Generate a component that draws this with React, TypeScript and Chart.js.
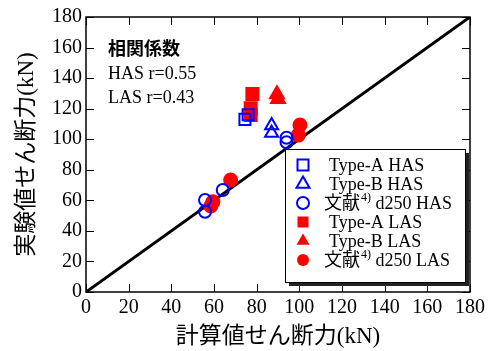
import React, { useEffect, useRef } from 'react';
import { Chart, registerables } from 'chart.js';
Chart.register(...registerables);

const tickValues = [0, 20, 40, 60, 80, 100, 120, 140, 160, 180];
const typeAHAS: [number, number][] = [[74.5, 113], [76, 116]];
const typeBHAS: [number, number][] = [[87, 109], [87, 104]];
const refHAS: [number, number][] = [[94, 101], [94, 98], [55.8, 60.2], [55.8, 52.5], [64.1, 66.8]];
const typeALAS: [number, number][] = [[78, 129.6], [77.2, 120.2], [77.2, 115.8]];
const typeBLAS: [number, number][] = [[89.5, 129.5], [90, 126.3]];
const refLAS: [number, number][] = [[100.3, 109.3], [99.5, 102.7], [67.8, 73.3], [59.5, 59], [58.5, 56.3]];
const diagonal: [number, number][] = [[0, 0], [180, 180]];
const xTitle = '計算値せん断力(kN)';
const yTitle = '実験値せん断力(kN)';
const noteLines = ['相関係数', 'HAS r=0.55', 'LAS r=0.43'];
const legendLabels = ['Type-A HAS', 'Type-B HAS', '文献|4)| d250 HAS', 'Type-A LAS', 'Type-B LAS', '文献|4)| d250 LAS'];
const legendStyles = ['rect', 'triangle', 'circle', 'rect', 'triangle', 'circle'];
const legendColors = ['#0000ff', '#0000ff', '#0000ff', '#ff0000', '#ff0000', '#ff0000'];
const legendFilled = [false, false, false, true, true, true];

const FONT = '"Liberation Serif", "Noto Sans CJK JP", serif';
const toPts = (a: [number, number][]) => a.map(([x, y]) => ({ x, y }));

function drawMarker(ctx: CanvasRenderingContext2D, style: string, x: number, y: number, color: string, filled: boolean) {
  ctx.beginPath();
  if (style === 'rect') {
    const s = 5.5;
    ctx.rect(x - s, y - s, 2 * s, 2 * s);
  } else if (style === 'triangle') {
    const r = 7.5;
    ctx.moveTo(x, y - r);
    ctx.lineTo(x + r * 0.866, y + r * 0.5);
    ctx.lineTo(x - r * 0.866, y + r * 0.5);
    ctx.closePath();
  } else {
    ctx.arc(x, y, 6, 0, Math.PI * 2);
  }
  if (filled) {
    ctx.fillStyle = color;
    ctx.fill();
  } else {
    ctx.strokeStyle = color;
    ctx.lineWidth = 2;
    ctx.stroke();
  }
}

const overlay = {
  id: 'overlay',
  afterDatasetsDraw(chart: any) {
    const { ctx, chartArea: a, scales } = chart;
    const xs = scales.x, ys = scales.y;
    ctx.save();
    ctx.strokeStyle = '#000';
    ctx.lineWidth = 1.5;
    ctx.strokeRect(a.left, a.top, a.right - a.left, a.bottom - a.top);
    ctx.lineWidth = 1;
    const L = 8;
    ctx.beginPath();
    for (const v of tickValues) {
      const px = Math.round(xs.getPixelForValue(v)) + 0.5;
      ctx.moveTo(px, a.bottom); ctx.lineTo(px, a.bottom - L);
      ctx.moveTo(px, a.top); ctx.lineTo(px, a.top + L);
      const py = Math.round(ys.getPixelForValue(v)) + 0.5;
      ctx.moveTo(a.left, py); ctx.lineTo(a.left + L, py);
      ctx.moveTo(a.right, py); ctx.lineTo(a.right - L, py);
    }
    ctx.stroke();

    // annotation
    ctx.fillStyle = '#000';
    ctx.textBaseline = 'middle';
    ctx.textAlign = 'left';
    ctx.font = 'bold 18px ' + FONT;
    ctx.fillText(noteLines[0], 108, 50);
    ctx.font = '18px ' + FONT;
    ctx.fillText(noteLines[1], 108, 74);
    ctx.fillText(noteLines[2], 108, 98);

    // legend
    const bx = 285, by = 149, bw = 180, bh = 133;
    ctx.fillStyle = '#222';
    ctx.fillRect(bx + 4, by + 4, bw, bh);
    ctx.fillStyle = '#fff';
    ctx.fillRect(bx, by, bw, bh);
    ctx.strokeStyle = '#000';
    ctx.lineWidth = 1;
    ctx.strokeRect(bx + 0.5, by + 0.5, bw, bh);
    const rows = [165, 184, 203, 222, 241, 260];
    legendLabels.forEach((lab, i) => {
      const y = rows[i];
      drawMarker(ctx, legendStyles[i], 303, y, legendColors[i], legendFilled[i]);
      ctx.fillStyle = '#000';
      const parts = lab.split('|');
      if (parts.length === 1) {
        ctx.font = '18px ' + FONT;
        ctx.fillText(lab, 329, y + 1);
      } else {
        let x = 324;
        ctx.font = '18px ' + FONT;
        ctx.fillText(parts[0], x, y + 1);
        x += ctx.measureText(parts[0]).width;
        ctx.font = '12px ' + FONT;
        ctx.fillText(parts[1], x + 1, y - 5);
        x += ctx.measureText(parts[1]).width + 1;
        ctx.font = '18px ' + FONT;
        ctx.fillText(parts[2], x, y + 1);
      }
    });
    ctx.restore();
  },
};

export default function App() {
  const ref = useRef<HTMLCanvasElement>(null);
  useEffect(() => {
    document.body.style.margin = '0';
    const mk = (label: string, data: [number, number][], style: string, r: number, color: string, filled: boolean) => ({
      type: 'scatter' as const,
      label,
      data: toPts(data),
      pointStyle: style,
      pointRadius: r,
      pointBorderWidth: 2,
      borderColor: color,
      backgroundColor: filled ? color : 'rgba(0,0,0,0)',
      order: 1,
    });
    const chart = new Chart(ref.current!, {
      type: 'scatter',
      data: {
        datasets: [
          {
            type: 'line' as const,
            label: 'diag',
            data: toPts(diagonal),
            borderColor: '#000',
            borderWidth: 3,
            pointRadius: 0,
            order: 10,
          } as any,
          mk('Type-A HAS', typeAHAS, 'rect', 7.8, '#0000ff', false),
          mk('Type-B HAS', typeBHAS, 'triangle', 7.5, '#0000ff', false),
          mk('文献4) d250 HAS', refHAS, 'circle', 6, '#0000ff', false),
          mk('Type-A LAS', typeALAS, 'rect', 8.5, '#ff0000', true),
          mk('Type-B LAS', typeBLAS, 'triangle', 8, '#ff0000', true),
          mk('文献4) d250 LAS', refLAS, 'circle', 6.5, '#ff0000', true),
        ],
      },
      options: {
        responsive: false,
        animation: false,
        layout: { padding: { top: 17, right: 23, left: 0, bottom: 0 } },
        plugins: { legend: { display: false }, tooltip: { enabled: false } },
        scales: {
          x: {
            type: 'linear',
            min: 0,
            max: 180,
            afterBuildTicks: (s: any) => { s.ticks = tickValues.map((v) => ({ value: v })); },
            afterFit: (s: any) => { s.height = 59; },
            grid: { display: false, drawTicks: false },
            border: { display: false },
            ticks: { color: '#000', padding: 4, maxRotation: 0, font: { family: FONT, size: 20 } },
            title: { display: true, text: xTitle, color: '#000', padding: { top: 0, bottom: 0 }, font: { family: FONT, size: 23 } },
          },
          y: {
            type: 'linear',
            min: 0,
            max: 180,
            afterBuildTicks: (s: any) => { s.ticks = tickValues.map((v) => ({ value: v })); },
            afterFit: (s: any) => { s.width = 86; },
            grid: { display: false, drawTicks: false },
            border: { display: false },
            ticks: { color: '#000', padding: 4, font: { family: FONT, size: 20 } },
            title: { display: true, text: yTitle, color: '#000', padding: { top: 13, bottom: 13 }, font: { family: FONT, size: 23 } },
          },
        },
      },
      plugins: [overlay],
    } as any);
    return () => chart.destroy();
  }, []);
  return (
    <div style={{ position: 'absolute', left: 0, top: 0, width: 493, height: 351, background: '#fff' }}>
      <canvas ref={ref} width={493} height={351} />
    </div>
  );
}
